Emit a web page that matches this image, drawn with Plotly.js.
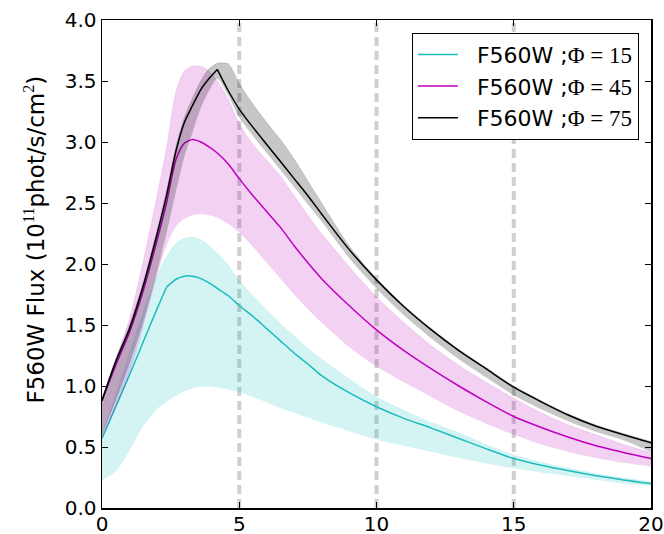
<!DOCTYPE html>
<html>
<head>
<meta charset="utf-8">
<script src="https://cdn.plot.ly/plotly-3.0.1.min.js"></script>
<style>
html,body{margin:0;padding:0;background:#fff;}
#chart{width:664px;height:534px;}
</style>
</head>
<body>
<div id="chart"></div>
<script>
// shared x grid
const xs = [0, 0.5, 1, 1.5, 2, 2.35, 2.7, 3.0, 3.3, 3.6, 3.9, 4.2, 4.6, 5, 5.5, 6, 6.5, 7, 7.5, 8, 9, 10, 11, 12, 13, 14, 15, 16, 17, 18, 19, 20];

// Phi = 15 (cyan)
const c15Mean  = [0.57, 0.83, 1.09, 1.36, 1.63, 1.81, 1.875, 1.90, 1.90, 1.88, 1.845, 1.80, 1.74, 1.66, 1.57, 1.47, 1.37, 1.27, 1.18, 1.085, 0.945, 0.83, 0.735, 0.655, 0.57, 0.485, 0.405, 0.35, 0.305, 0.265, 0.23, 0.20];
const c15Upper = [0.60, 0.93, 1.27, 1.60, 1.90, 2.06, 2.17, 2.21, 2.22, 2.20, 2.15, 2.09, 1.99, 1.86, 1.74, 1.62, 1.51, 1.41, 1.31, 1.22, 1.06, 0.91, 0.80, 0.70, 0.615, 0.52, 0.435, 0.375, 0.325, 0.28, 0.245, 0.215];
const c15Lower = [0.23, 0.30, 0.47, 0.67, 0.81, 0.87, 0.92, 0.955, 0.98, 0.995, 0.995, 0.985, 0.97, 0.95, 0.91, 0.865, 0.82, 0.78, 0.74, 0.70, 0.63, 0.56, 0.51, 0.46, 0.41, 0.365, 0.325, 0.29, 0.26, 0.23, 0.20, 0.18];

// Phi = 45 (magenta)
const c45Mean  = [0.88, 1.17, 1.44, 1.78, 2.19, 2.50, 2.86, 2.99, 3.02, 3.00, 2.96, 2.91, 2.82, 2.70, 2.56, 2.43, 2.30, 2.15, 2.01, 1.88, 1.66, 1.46, 1.29, 1.14, 1.00, 0.87, 0.75, 0.66, 0.58, 0.51, 0.455, 0.405];
const c45Upper = [0.90, 1.22, 1.55, 2.02, 2.55, 2.95, 3.42, 3.58, 3.62, 3.62, 3.58, 3.50, 3.35, 3.15, 2.98, 2.85, 2.72, 2.56, 2.40, 2.25, 1.98, 1.73, 1.52, 1.33, 1.17, 1.03, 0.90, 0.78, 0.68, 0.60, 0.52, 0.455];
const c45Lower = [0.58, 0.82, 1.10, 1.48, 1.90, 2.15, 2.31, 2.37, 2.40, 2.41, 2.40, 2.38, 2.33, 2.26, 2.14, 2.01, 1.88, 1.75, 1.63, 1.52, 1.32, 1.16, 1.03, 0.91, 0.79, 0.69, 0.60, 0.52, 0.46, 0.41, 0.37, 0.34];

// Phi = 75 (black)
const c75Mean  = [0.88, 1.20, 1.47, 1.82, 2.24, 2.56, 2.93, 3.16, 3.30, 3.43, 3.52, 3.595, 3.42, 3.27, 3.12, 2.98, 2.84, 2.70, 2.56, 2.41, 2.12, 1.87, 1.65, 1.46, 1.29, 1.14, 0.99, 0.87, 0.76, 0.67, 0.60, 0.535];
const c75Upper = [0.90, 1.22, 1.50, 1.85, 2.27, 2.60, 2.97, 3.20, 3.36, 3.50, 3.60, 3.645, 3.64, 3.48, 3.31, 3.16, 3.02, 2.86, 2.68, 2.50, 2.15, 1.88, 1.66, 1.47, 1.30, 1.15, 1.00, 0.88, 0.77, 0.68, 0.61, 0.545];
const c75Lower = [0.60, 0.88, 1.18, 1.52, 1.93, 2.25, 2.60, 2.88, 3.08, 3.28, 3.42, 3.52, 3.38, 3.20, 3.05, 2.91, 2.77, 2.63, 2.49, 2.35, 2.05, 1.80, 1.58, 1.39, 1.22, 1.07, 0.925, 0.81, 0.71, 0.625, 0.555, 0.46];

// index of a sharp corner in each mean curve (-1 = smooth)
const kinks = [5, -1, 11];

const mathSpan = t => "<span style=\"font-family:'Liberation Serif';font-size:23px\">" + t + "</span>";
const lead = "\u00a0\u00a0";
const seriesNames = [lead + "F560W ;" + mathSpan("Φ = 15"), lead + "F560W ;" + mathSpan("Φ = 45"), lead + "F560W ;" + mathSpan("Φ = 75")];
const lineColors = ['#1cbcbc', '#bf00bf', '#000000'];
const fillColors = ['rgba(0,191,191,0.17)', 'rgba(191,0,191,0.18)', 'rgba(0,0,0,0.22)'];
const vlines = [5, 10, 15];
const xTicks = [0, 5, 10, 15, 20];
const yTicks = [0, 0.5, 1.0, 1.5, 2.0, 2.5, 3.0, 3.5, 4.0];

const means = [c15Mean, c45Mean, c75Mean];
const uppers = [c15Upper, c45Upper, c75Upper];
const lowers = [c15Lower, c45Lower, c75Lower];

const traces = [];
for (let i = 0; i < 3; i++) {
  traces.push({x: xs, y: lowers[i], mode: 'lines', line: {width: 0, color: fillColors[i], shape: 'spline', smoothing: 0.7},
               showlegend: false, hoverinfo: 'skip', legendgroup: 'g' + i});
  traces.push({x: xs, y: uppers[i], mode: 'lines', line: {width: 0.6, color: fillColors[i], shape: 'spline', smoothing: 0.7},
               fill: 'tonexty', fillcolor: fillColors[i], showlegend: false, hoverinfo: 'skip', legendgroup: 'g' + i});
  const k = kinks[i];
  if (k < 0) {
    traces.push({x: xs, y: means[i], mode: 'lines', name: seriesNames[i],
                 line: {width: 1.5, color: lineColors[i], shape: 'spline', smoothing: 0.7}, legendgroup: 'g' + i});
  } else {
    traces.push({x: xs.slice(0, k + 1), y: means[i].slice(0, k + 1), mode: 'lines', name: seriesNames[i],
                 line: {width: 1.5, color: lineColors[i], shape: 'spline', smoothing: 0.7}, legendgroup: 'g' + i});
    traces.push({x: xs.slice(k), y: means[i].slice(k), mode: 'lines', showlegend: false,
                 line: {width: 1.5, color: lineColors[i], shape: 'spline', smoothing: 0.7}, legendgroup: 'g' + i});
  }
}

const shapes = vlines.map(v => ({type: 'line', xref: 'x', yref: 'paper', x0: v, x1: v, y0: 0, y1: 1,
  layer: 'below', line: {color: '#cfcfcf', width: 4, dash: '9px,5px'}}));

const layout = {
  width: 664, height: 534,
  margin: {l: 102, r: 13, t: 20, b: 26},
  paper_bgcolor: '#fff', plot_bgcolor: '#fff',
  font: {family: 'DejaVu Sans', color: '#000', size: 20},
  showlegend: true,
  legend: {x: 0.978, xanchor: 'right', y: 0.974, yanchor: 'top', bgcolor: '#fff',
           bordercolor: '#000', borderwidth: 1, font: {size: 22, family: 'DejaVu Sans'},
           traceorder: 'grouped', tracegroupgap: 0, itemwidth: 40},
  xaxis: {range: [0, 20], tickvals: xTicks, ticktext: xTicks.map(String), ticks: 'inside', ticklen: 6,
          tickcolor: '#000', showline: true, linecolor: '#000', linewidth: 1.5, mirror: 'ticks',
          showgrid: false, zeroline: false, tickfont: {size: 20}, ticklabelstandoff: -3},
  yaxis: {range: [0, 4], tickvals: yTicks, ticktext: yTicks.map(v => v.toFixed(1)), ticks: 'inside', ticklen: 6,
          tickcolor: '#000', showline: true, linecolor: '#000', linewidth: 1.5, mirror: 'ticks',
          showgrid: false, zeroline: false, tickfont: {size: 20}},
  annotations: [{
    text: "F560W Flux (10<sup><span style=\"font-family:'Liberation Serif'\">11</span></sup>phot/s/cm<sup><span style=\"font-family:'Liberation Serif'\">2</span></sup>)",
    xref: 'paper', yref: 'paper', x: -0.123, y: 0.551, xanchor: 'center', yanchor: 'middle',
    textangle: -90, showarrow: false, font: {size: 23, family: 'DejaVu Sans', color: '#000'}
  }],
  shapes: shapes
};

Plotly.newPlot('chart', traces, layout, {displayModeBar: false, staticPlot: true});
</script>
</body>
</html>
